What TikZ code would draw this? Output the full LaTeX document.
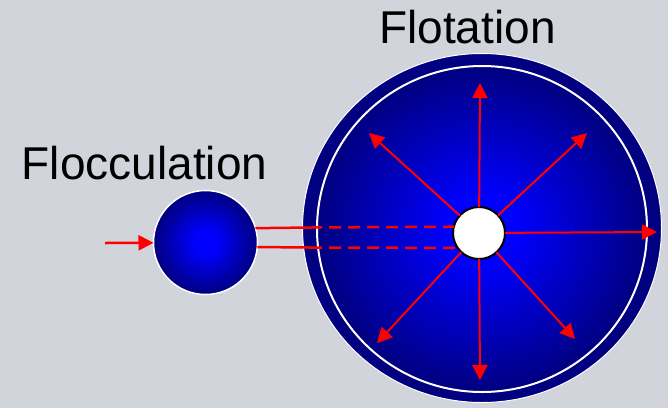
\documentclass[tikz,border=0pt]{standalone}
\usepackage{fontspec}
\setmainfont{Liberation Sans}
\usetikzlibrary{shapes.geometric, arrows.meta}

\definecolor{bggray}{RGB}{209,212,218}
\definecolor{deepnavy}{RGB}{0,0,128}
\pgfdeclareradialshading{tankglow}{\pgfpoint{0bp}{0bp}}{color(0bp)=(blue); color(5bp)=(blue); color(25bp)=(deepnavy); color(50bp)=(deepnavy)}

\begin{document}
\begin{tikzpicture}[
    x=1pt, y=-1pt,
    title/.style={font=\fontsize{46}{50}\selectfont, anchor=base, inner sep=0},
    tank/.style={ellipse, inner sep=0, outer sep=0},
    flow/.style={red, line width=2pt, -{Triangle[length=15pt, width=15pt]}},
    feed/.style={red, line width=2.5pt},
]

% Background
\fill[bggray] (0,0) rectangle (668,408);
\useasboundingbox (0,0) rectangle (668,408);

% Titles
\node[title] (floctitle) at (144.5,179) {Flocculation};
\node[title] (flottitle) at (467.5,43) {Flotation};

% Tanks
\node[tank, fill=deepnavy, draw=white, line width=1pt, minimum width=359, minimum height=349] (shell) at (482,228) {};
\node[tank, shading=tankglow, draw=white, line width=2pt, minimum width=330, minimum height=326] (bowl) at (482,229) {};
\node[circle, shading=tankglow, draw=white, line width=1.5pt, minimum size=104, inner sep=0, outer sep=0] (floc) at (205.5,242.5) {};

% Pipes
\coordinate (pipeA) at (310,227.5);
\coordinate (pipeB) at (310,247.5);
\coordinate (feedin) at (105,243);

\node[circle, fill=white, draw=black, line width=2pt, minimum size=52, inner sep=0, outer sep=0] (core) at (479,233) {};

\draw[feed] (floc.16) -- (pipeA);
\draw[feed] (floc.-5) -- (pipeB);
\draw[feed, dash pattern=on 12pt off 7pt] (pipeA) -- (core.166);
\draw[feed, dash pattern=on 12pt off 7pt] (pipeB) -- (core.215);
\draw[feed, -{Triangle[length=15pt, width=15pt]}] (feedin) -- (floc);

% Bubbles out
\coordinate (tipN) at (480,83);
\coordinate (tipS) at (480,380);
\coordinate (tipE) at (657,232);
\coordinate (tipNW) at (369,133);
\coordinate (tipNE) at (587,133);
\coordinate (tipSW) at (377,343);
\coordinate (tipSE) at (575,339);

\foreach \t in {tipN, tipS, tipE, tipNW, tipNE, tipSW, tipSE}
    \draw[flow] (core) -- (\t);

\end{tikzpicture}
\end{document}
